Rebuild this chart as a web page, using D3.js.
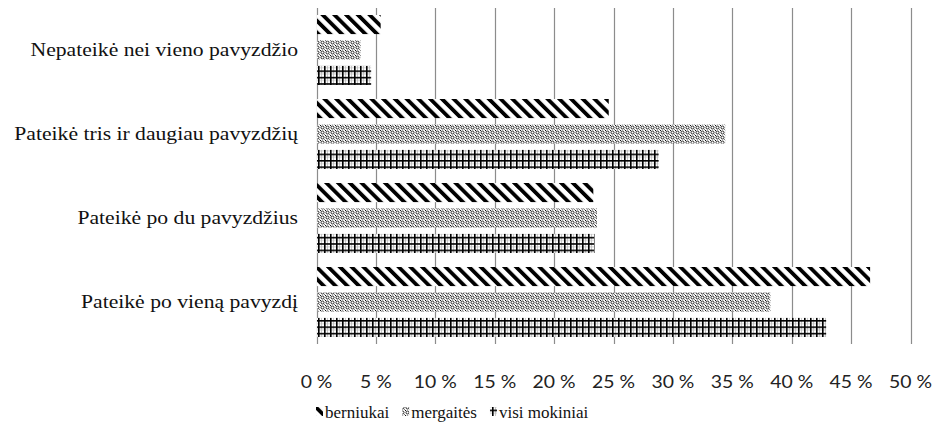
<!DOCTYPE html>
<html>
<head>
<meta charset="utf-8">
<script src="https://cdn.jsdelivr.net/npm/d3@7"></script>
<style>
  html, body { margin: 0; padding: 0; background: #fff; }
  svg { display: block; }
</style>
</head>
<body>
<svg id="chart" width="937" height="430"></svg>
<script>
const categories = [
  "Nepateikė nei vieno pavyzdžio",
  "Pateikė tris ir daugiau pavyzdžių",
  "Pateikė po du pavyzdžius",
  "Pateikė po vieną pavyzdį"
];
const seriesNames = ["berniukai", "mergaitės", "visi mokiniai"];
const berniukai = [5.4, 24.6, 23.3, 46.6];
const mergaites = [3.7, 34.4, 23.6, 38.2];
const visiMokiniai = [4.6, 28.8, 23.4, 42.9];
const tickValues = [0, 5, 10, 15, 20, 25, 30, 35, 40, 45, 50];
const tickLabels = ["0 %", "5 %", "10 %", "15 %", "20 %", "25 %", "30 %", "35 %", "40 %", "45 %", "50 %"];

const seriesValues = [berniukai, mergaites, visiMokiniai];
const patternIds = ["pat-diag", "pat-dots", "pat-grid"];
const serif = "'Liberation Serif', 'Times New Roman', serif";
const sx = 1.14; // horizontal stretch of text in the reference

const svg = d3.select("#chart");
const defs = svg.append("defs");

// diagonal stripes
const p1 = defs.append("pattern").attr("id", "pat-diag")
  .attr("patternUnits", "userSpaceOnUse").attr("width", 8.3).attr("height", 8.3)
  .attr("patternTransform", "rotate(-45)");
p1.append("rect").attr("width", 8.3).attr("height", 8.3).attr("fill", "#fff");
p1.append("rect").attr("x", 0).attr("width", 3.8).attr("height", 8.3).attr("fill", "#000");

// dotted weave
const p2 = defs.append("pattern").attr("id", "pat-dots")
  .attr("patternUnits", "userSpaceOnUse").attr("width", 5).attr("height", 5);
p2.append("rect").attr("width", 5).attr("height", 5).attr("fill", "#fff");
p2.append("circle").attr("cx", 2.5).attr("cy", 2.5).attr("r", 1.5).attr("fill", "none").attr("stroke", "#222").attr("stroke-width", 1);
p2.append("rect").attr("x", 0).attr("y", 0).attr("width", 1).attr("height", 1).attr("fill", "#111");
p2.append("rect").attr("x", 4).attr("y", 4).attr("width", 1).attr("height", 1).attr("fill", "#777");

// grid
const p3 = defs.append("pattern").attr("id", "pat-grid")
  .attr("patternUnits", "userSpaceOnUse").attr("width", 6).attr("height", 6.4);
p3.append("rect").attr("width", 6).attr("height", 6.4).attr("fill", "#fff");
p3.append("rect").attr("x", 3).attr("y", 0).attr("width", 0.8).attr("height", 6.4).attr("fill", "#bbb");
p3.append("rect").attr("x", 0).attr("y", 3.2).attr("width", 6).attr("height", 0.8).attr("fill", "#bbb");
p3.append("rect").attr("x", 0).attr("y", 0).attr("width", 1.6).attr("height", 6.4).attr("fill", "#000");
p3.append("rect").attr("x", 0).attr("y", 0).attr("width", 6).attr("height", 1.6).attr("fill", "#000");

const x = d3.scaleLinear().domain([0, 50]).range([316.5, 910.5]);
const y = d3.scaleBand().domain(categories).range([8, 344]).padding(0);
const yInner = d3.scaleBand().domain(seriesNames).range([7, 77]).paddingInner(0.25).paddingOuter(0);

// gridlines
svg.append("g").selectAll("line").data(tickValues).join("line")
  .attr("x1", d => Math.round(x(d)) + 0.5).attr("x2", d => Math.round(x(d)) + 0.5)
  .attr("y1", 8).attr("y2", 344)
  .attr("stroke", "#8c8c8c").attr("stroke-width", 1.2);

// x axis labels
const xAxis = d3.axisBottom(x).tickValues(tickValues)
  .tickFormat((d, i) => tickLabels[i]).tickSize(0).tickPadding(0);
const gx = svg.append("g").attr("transform", "translate(0,344)").call(xAxis);
gx.select(".domain").remove();
gx.selectAll("text").attr("dy", null).attr("y", 0)
  .attr("transform", `translate(0,44) scale(${sx},1)`)
  .attr("font-family", "Lato, 'Open Sans', sans-serif").attr("font-size", 17).attr("fill", "#222");
gx.selectAll(".tick").attr("transform", d => `translate(${x(d)},0)`);

// bars
categories.forEach((cat, ci) => {
  seriesNames.forEach((s, si) => {
    svg.append("rect")
      .attr("x", x(0) + 0.5)
      .attr("y", y(cat) + yInner(s))
      .attr("width", x(seriesValues[si][ci]) - x(0) - 0.5)
      .attr("height", yInner.bandwidth())
      .attr("fill", `url(#${patternIds[si]})`);
  });
});

// category labels
const yAxis = d3.axisLeft(y).tickSize(0).tickPadding(0);
const gy = svg.append("g").attr("transform", "translate(298,0)").call(yAxis);
gy.select(".domain").remove();
gy.selectAll("text").attr("x", 0).attr("transform", `scale(${sx},1)`)
  .attr("font-family", serif).attr("font-size", 19).attr("fill", "#111");

// legend: items laid out one after another
const lg = svg.append("g");
let cx = 316;
seriesNames.forEach((s, i) => {
  lg.append("rect").attr("x", cx).attr("y", 407).attr("width", 7).attr("height", 9)
    .attr("fill", `url(#${patternIds[i]})`);
  const t = lg.append("text")
    .attr("transform", `translate(${cx + 9},418)`)
    .attr("font-family", serif)
    .attr("font-size", 17).attr("fill", "#111").text(s);
  const w = t.node().getComputedTextLength();
  cx = cx + 9 + w + 13;
});
</script>
</body>
</html>
